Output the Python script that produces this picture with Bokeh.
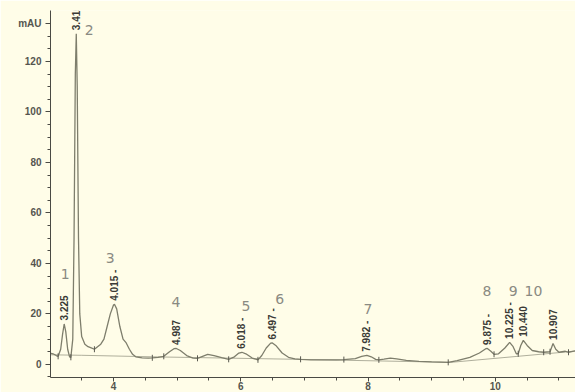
import numpy as np
from bokeh.plotting import figure
from bokeh.models import FixedTicker, ColumnDataSource, Range1d
from bokeh.core.properties import value
from bokeh.embed import file_html
from bokeh.resources import INLINE

# ---- data ----
time_min = [3.00, 3.05, 3.10, 3.13, 3.17, 3.20, 3.225, 3.25, 3.28, 3.31, 3.33, 3.36, 3.38, 3.40, 3.415,
            3.43, 3.45, 3.47, 3.50, 3.55, 3.60, 3.65, 3.70, 3.75, 3.80, 3.85, 3.90, 3.95, 4.00, 4.015,
            4.05, 4.10, 4.15, 4.20, 4.25, 4.30, 4.35, 4.45, 4.55, 4.61, 4.70, 4.79, 4.88, 4.95, 4.987,
            5.05, 5.15, 5.25, 5.32, 5.40, 5.48, 5.58, 5.70, 5.81, 5.90, 5.97, 6.018, 6.08, 6.18, 6.27,
            6.33, 6.40, 6.47, 6.497, 6.55, 6.65, 6.75, 6.85, 6.94, 7.10, 7.30, 7.50, 7.62, 7.80, 7.90,
            7.982, 8.05, 8.12, 8.17, 8.25, 8.35, 8.45, 8.60, 8.80, 9.00, 9.26, 9.40, 9.60, 9.75, 9.85,
            9.875, 9.93, 9.98, 10.05, 10.15, 10.225, 10.28, 10.33, 10.36, 10.40, 10.44, 10.50, 10.58,
            10.68, 10.76, 10.86, 10.907, 10.95, 11.00, 11.10, 11.15, 11.28]
signal_mau = [4.5, 4.2, 3.5, 3.2, 6.0, 12.0, 16.0, 13.0, 6.0, 3.0, 2.8, 10.0, 50.0, 115.0, 131.0,
              110.0, 50.0, 20.0, 11.0, 8.0, 7.0, 6.5, 6.0, 7.0, 8.0, 10.0, 15.0, 20.0, 23.5, 23.8,
              22.0, 15.0, 10.0, 8.5, 6.0, 4.0, 3.0, 2.6, 2.5, 2.6, 2.8, 3.2, 5.0, 6.2, 6.3,
              5.5, 3.5, 2.5, 2.4, 3.2, 4.0, 3.5, 2.7, 2.0, 3.0, 4.5, 4.8, 4.2, 2.5, 1.8,
              3.5, 6.5, 8.4, 8.5, 7.5, 4.5, 2.8, 2.2, 2.0, 1.8, 1.8, 1.8, 1.9, 2.3, 3.2,
              3.6, 3.0, 2.0, 1.8, 2.1, 2.5, 2.2, 1.6, 1.2, 1.0, 0.8, 1.5, 2.8, 4.5, 6.2,
              6.3, 5.2, 4.0, 4.2, 6.5, 8.7, 7.0, 4.2, 4.2, 7.5, 9.5, 7.5, 5.5,
              5.0, 4.8, 5.0, 8.3, 6.0, 4.8, 5.2, 4.8, 5.5]

baseline_t = [3.00, 3.50, 4.60, 6.90, 9.30, 11.28]
baseline_v = [3.8, 3.6, 3.0, 2.0, 0.8, 5.3]

event_t = [3.13, 3.33, 3.70, 4.61, 4.79, 5.32, 5.81, 6.27, 6.94, 7.62, 8.17, 9.26, 9.98, 10.36, 10.76, 10.86, 11.15]
event_v = [3.2, 2.8, 6.0, 2.6, 3.2, 2.4, 2.0, 1.8, 2.0, 1.9, 1.8, 0.8, 4.0, 4.2, 4.8, 5.0, 4.8]

peak_rt = [3.225, 3.415, 4.015, 4.987, 6.018, 6.497, 7.982, 9.875, 10.225, 10.440, 10.907]
peak_height = [16.0, 131.0, 23.8, 6.3, 4.8, 8.5, 3.6, 6.3, 8.7, 9.5, 8.3]
peak_text = ["3.225", "3.415", "4.015 -", "4.987", "6.018 -", "6.497 -", "7.982 -",
             "9.875 -", "10.225 -", "10.440", "10.907"]

peak_no = ["1", "2", "3", "4", "5", "6", "7", "8", "9", "10"]
peak_no_x = [3.24, 3.62, 3.95, 4.98, 6.08, 6.61, 8.00, 9.87, 10.28, 10.60]
peak_no_y = [36, 132.5, 42, 24.6, 23, 26, 22, 29, 29, 29]

x_ticks = [4, 6, 8, 10]
y_ticks = [0, 20, 40, 60, 80, 100, 120]
y_unit_tick = 135
y_unit = "mAU"

# ---- figure ----
BG = "#fffde8"
TRACE = "#7e7e6c"
AX = "#4a4a44"
LBL = "#55554f"

p = figure(width=575, height=392, output_backend="svg", toolbar_location=None,
           x_range=Range1d(3.01, 11.26), y_range=Range1d(-5.2, 140.2),
           min_border_left=50, min_border_right=0, min_border_top=10, min_border_bottom=4)
p.background_fill_color = BG
p.border_fill_color = BG
p.outline_line_color = None
p.grid.visible = False

p.xaxis.ticker = FixedTicker(ticks=x_ticks, minor_ticks=[3.5 + 0.5 * i for i in range(16)])
p.yaxis.ticker = FixedTicker(ticks=y_ticks + [y_unit_tick],
                             minor_ticks=[-5] + [5 * i for i in range(1, 28)])
p.yaxis.major_label_overrides = {y_unit_tick: y_unit}
for ax in (p.xaxis[0], p.yaxis[0]):
    ax.axis_line_color = AX
    ax.major_tick_line_color = AX
    ax.minor_tick_line_color = AX
    ax.major_tick_in = 0
    ax.minor_tick_in = 0
    ax.major_tick_out = 5
    ax.minor_tick_out = 3
    ax.major_label_text_font = "Liberation Sans"
    ax.major_label_text_font_style = "bold"
    ax.major_label_text_color = LBL
p.xaxis.major_tick_out = 4
p.xaxis.major_label_text_font_size = "10px"
p.xaxis.major_label_standoff = 0
p.yaxis.major_label_text_font_size = "10px"
p.yaxis.major_label_standoff = 4

# baseline and trace
p.line(baseline_t, baseline_v, line_color="#9a9a88", line_width=0.8)
p.line(time_min, signal_mau, line_color=TRACE, line_width=1.3)
p.scatter(event_t, event_v, marker="dash", angle=np.pi / 2, size=6, line_color="#5a5a50", line_width=1)

# retention-time labels
rt_src = ColumnDataSource(dict(x=peak_rt, y=[h + 1.4 for h in peak_height], t=peak_text))
p.text(x="x", y="y", text="t", source=rt_src, angle=np.pi / 2, text_align="left",
       text_baseline="middle", text_font=value("Liberation Sans"), text_font_style="bold",
       text_font_size="10px", text_color="#3a3a36")

# peak numbers
no_src = ColumnDataSource(dict(x=peak_no_x, y=peak_no_y, t=peak_no))
p.text(x="x", y="y", text="t", source=no_src, text_align="center", text_baseline="middle",
       text_font=value("DejaVu Sans"), text_font_size="14px", text_color="#8a8a82")

open("out.html", "w").write(file_html(p, INLINE))
